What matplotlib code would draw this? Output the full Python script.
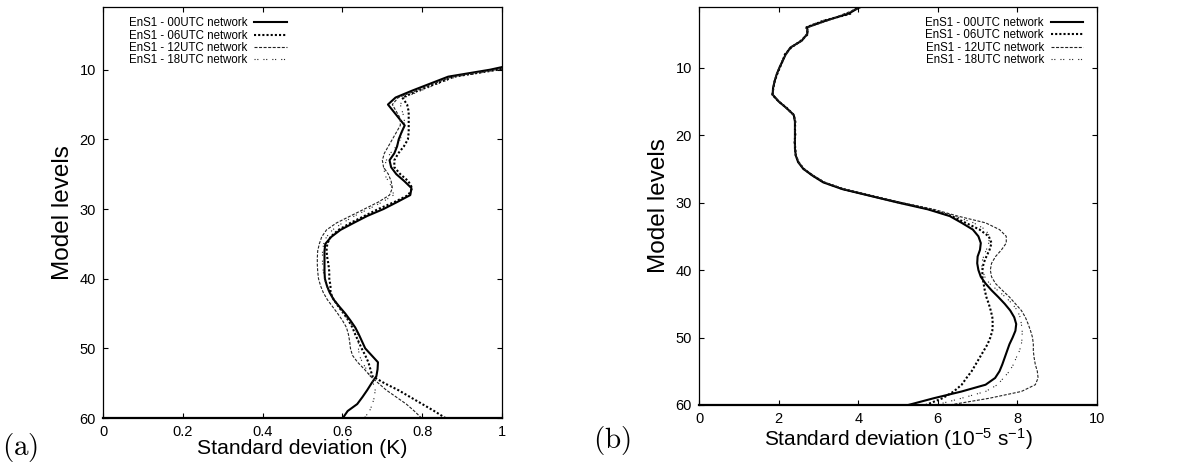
import matplotlib
matplotlib.use("Agg")
import matplotlib.pyplot as plt

plt.rcParams['font.family'] = ['Liberation Sans', 'DejaVu Sans']
plt.rcParams['mathtext.fontset'] = 'custom'
plt.rcParams['mathtext.rm'] = 'Liberation Sans'
plt.rcParams['mathtext.it'] = 'Liberation Sans'
plt.rcParams['mathtext.default'] = 'regular'

series_labels = ["EnS1 - 00UTC network", "EnS1 - 06UTC network",
                 "EnS1 - 12UTC network", "EnS1 - 18UTC network"]

# (a) temperature spread, model levels 9..60
levels_t = list(range(9, 61))
t_00 = [1.05, 0.97, 0.865, 0.82, 0.775, 0.733, 0.714, 0.728, 0.742, 0.756,
        0.748, 0.741, 0.737, 0.73, 0.718, 0.722, 0.735, 0.755, 0.773, 0.770,
        0.737, 0.703, 0.662, 0.628, 0.595, 0.572, 0.557, 0.555, 0.555, 0.555,
        0.555, 0.556, 0.561, 0.568, 0.578, 0.592, 0.607, 0.62, 0.632, 0.641,
        0.649, 0.657, 0.673, 0.689, 0.688, 0.685, 0.673, 0.662, 0.65, 0.637,
        0.613, 0.601]
t_06 = [1.06, 0.99, 0.88, 0.835, 0.79, 0.75, 0.762, 0.766, 0.766, 0.766,
        0.766, 0.764, 0.754, 0.74, 0.73, 0.73, 0.745, 0.765, 0.775, 0.765,
        0.73, 0.69, 0.655, 0.62, 0.59, 0.57, 0.562, 0.56, 0.562, 0.565,
        0.567, 0.567, 0.57, 0.57, 0.578, 0.59, 0.603, 0.615, 0.625, 0.632,
        0.64, 0.648, 0.657, 0.665, 0.67, 0.675, 0.705, 0.74, 0.77, 0.80,
        0.83, 0.858]
t_12 = [1.05, 0.985, 0.875, 0.83, 0.785, 0.74, 0.725, 0.735, 0.745, 0.745,
        0.735, 0.725, 0.715, 0.705, 0.70, 0.703, 0.715, 0.722, 0.725, 0.718,
        0.69, 0.655, 0.62, 0.585, 0.56, 0.548, 0.542, 0.538, 0.537, 0.537,
        0.538, 0.54, 0.545, 0.552, 0.562, 0.575, 0.588, 0.60, 0.61, 0.615,
        0.618, 0.62, 0.625, 0.638, 0.655, 0.67, 0.69, 0.71, 0.735, 0.76,
        0.78, 0.798]
t_18 = [1.06, 0.995, 0.885, 0.84, 0.797, 0.755, 0.745, 0.75, 0.755, 0.755,
        0.75, 0.745, 0.735, 0.72, 0.71, 0.705, 0.705, 0.715, 0.725, 0.728,
        0.70, 0.665, 0.63, 0.60, 0.575, 0.56, 0.553, 0.55, 0.55, 0.55,
        0.552, 0.555, 0.56, 0.567, 0.577, 0.59, 0.603, 0.615, 0.628, 0.638,
        0.64, 0.64, 0.642, 0.65, 0.66, 0.67, 0.677, 0.682, 0.68, 0.675,
        0.668, 0.655]

# (b) vorticity spread (1e-5 s-1), model levels 1..60
levels_v = list(range(1, 61))
v_00 = [4.05, 3.75, 3.2, 2.72, 2.72, 2.58, 2.3, 2.18, 2.1, 2.02,
        1.95, 1.9, 1.86, 1.85, 2.0, 2.2, 2.38, 2.41, 2.41, 2.41,
        2.41, 2.41, 2.43, 2.49, 2.62, 2.85, 3.12, 3.6, 4.3, 5.0,
        5.75, 6.3, 6.6, 6.88, 7.02, 7.08, 7.06, 7.0, 6.99, 7.02,
        7.08, 7.2, 7.35, 7.52, 7.68, 7.82, 7.92, 7.97, 7.95, 7.88,
        7.8, 7.74, 7.68, 7.62, 7.55, 7.44, 7.2, 6.6, 5.9, 5.26]
v_06 = [3.95, 3.8, 3.15, 2.7, 2.74, 2.56, 2.32, 2.16, 2.1, 2.03,
        1.96, 1.9, 1.87, 1.84, 2.0, 2.21, 2.38, 2.42, 2.41, 2.42,
        2.4, 2.42, 2.43, 2.5, 2.63, 2.86, 3.14, 3.62, 4.33, 5.04,
        5.8, 6.35, 6.7, 7.05, 7.28, 7.35, 7.3, 7.22, 7.15, 7.12,
        7.12, 7.15, 7.18, 7.22, 7.28, 7.33, 7.37, 7.38, 7.37, 7.32,
        7.25, 7.15, 7.05, 6.95, 6.85, 6.72, 6.6, 6.4, 6.12, 5.7]
v_12 = [4.1, 3.65, 3.25, 2.75, 2.7, 2.6, 2.28, 2.2, 2.08, 2.02,
        1.94, 1.91, 1.86, 1.86, 2.01, 2.19, 2.37, 2.41, 2.42, 2.4,
        2.41, 2.4, 2.44, 2.5, 2.64, 2.88, 3.16, 3.66, 4.38, 5.1,
        5.9, 6.5, 7.2, 7.55, 7.72, 7.72, 7.6, 7.45, 7.35, 7.32,
        7.35, 7.45, 7.62, 7.8, 7.95, 8.1, 8.2, 8.27, 8.33, 8.38,
        8.4, 8.4, 8.42, 8.45, 8.5, 8.52, 8.45, 8.1, 7.3, 6.3]
v_18 = [3.9, 3.85, 3.1, 2.68, 2.73, 2.57, 2.31, 2.19, 2.09, 2.01,
        1.95, 1.89, 1.87, 1.85, 1.99, 2.2, 2.39, 2.41, 2.4, 2.41,
        2.42, 2.41, 2.43, 2.49, 2.63, 2.87, 3.15, 3.64, 4.35, 5.06,
        5.85, 6.42, 6.9, 7.2, 7.3, 7.28, 7.22, 7.15, 7.1, 7.12,
        7.18, 7.3, 7.5, 7.7, 7.87, 8.0, 8.07, 8.1, 8.12, 8.12,
        8.1, 8.05, 7.97, 7.9, 7.8, 7.65, 7.5, 7.2, 6.6, 5.95]

styles = [
    dict(color='black', lw=1.5, linestyle='-'),
    dict(color='black', lw=1.5, linestyle=(0, (1, 1))),
    dict(color='#222222', lw=0.8, linestyle=(0, (2.7, 1.4))),
    dict(color='#222222', lw=0.8, linestyle=(0, (1, 1.5, 1, 4.5))),
]

fig = plt.figure(figsize=(11.83, 4.66), dpi=100)
ax_a = fig.add_axes([0.0871, 0.103, 0.3373, 0.882])
ax_b = fig.add_axes([0.5909, 0.131, 0.3364, 0.854])


def style_axes(ax, xmax, xticks, xticklabels):
    ax.set_xlim(0, xmax)
    ax.set_ylim(60, 1)
    ax.set_xticks(xticks)
    ax.set_xticklabels(xticklabels)
    ax.set_yticks([10, 20, 30, 40, 50, 60])
    ax.tick_params(direction='in', length=3.5, width=0.8, top=True,
                   right=True, labelsize=10.5, pad=5)
    for side in ['top', 'left', 'right']:
        ax.spines[side].set_linewidth(0.9)
    ax.spines['bottom'].set_linewidth(1.6)
    ax.set_ylabel("Model levels", fontsize=17.5, labelpad=4)


def add_legend(ax, loc, anchor):
    ax.legend(loc=loc, bbox_to_anchor=anchor, frameon=False,
              markerfirst=False, fontsize=8.3, handlelength=2.8,
              labelspacing=0.03, handletextpad=0.6, borderpad=0,
              borderaxespad=0)


for xs, st, lab in zip([t_00, t_06, t_12, t_18], styles, series_labels):
    ax_a.plot(xs, levels_t, label=lab, **st)
style_axes(ax_a, 1, [0, 0.2, 0.4, 0.6, 0.8, 1],
           ["0", "0.2", "0.4", "0.6", "0.8", "1"])
ax_a.set_xlabel("Standard deviation (K)", fontsize=15.2, labelpad=0)
add_legend(ax_a, 'upper left', (0.065, 0.975))

for xs, st, lab in zip([v_00, v_06, v_12, v_18], styles, series_labels):
    ax_b.plot(xs, levels_v, label=lab, **st)
style_axes(ax_b, 10, [0, 2, 4, 6, 8, 10],
           ["0", "2", "4", "6", "8", "10"])
ax_b.set_xlabel(r"Standard deviation (10$^{-5}$ s$^{-1}$)", fontsize=15,
                labelpad=0)
add_legend(ax_b, 'upper right', (0.965, 0.975))

fig.text(0.017, 0.04, r"$\mathrm{(a)}$", fontsize=21, math_fontfamily='cm',
         ha='center', va='center')
fig.text(0.517, 0.055, r"$\mathrm{(b)}$", fontsize=21, math_fontfamily='cm',
         ha='center', va='center')

fig.savefig("out.png", dpi=100)
